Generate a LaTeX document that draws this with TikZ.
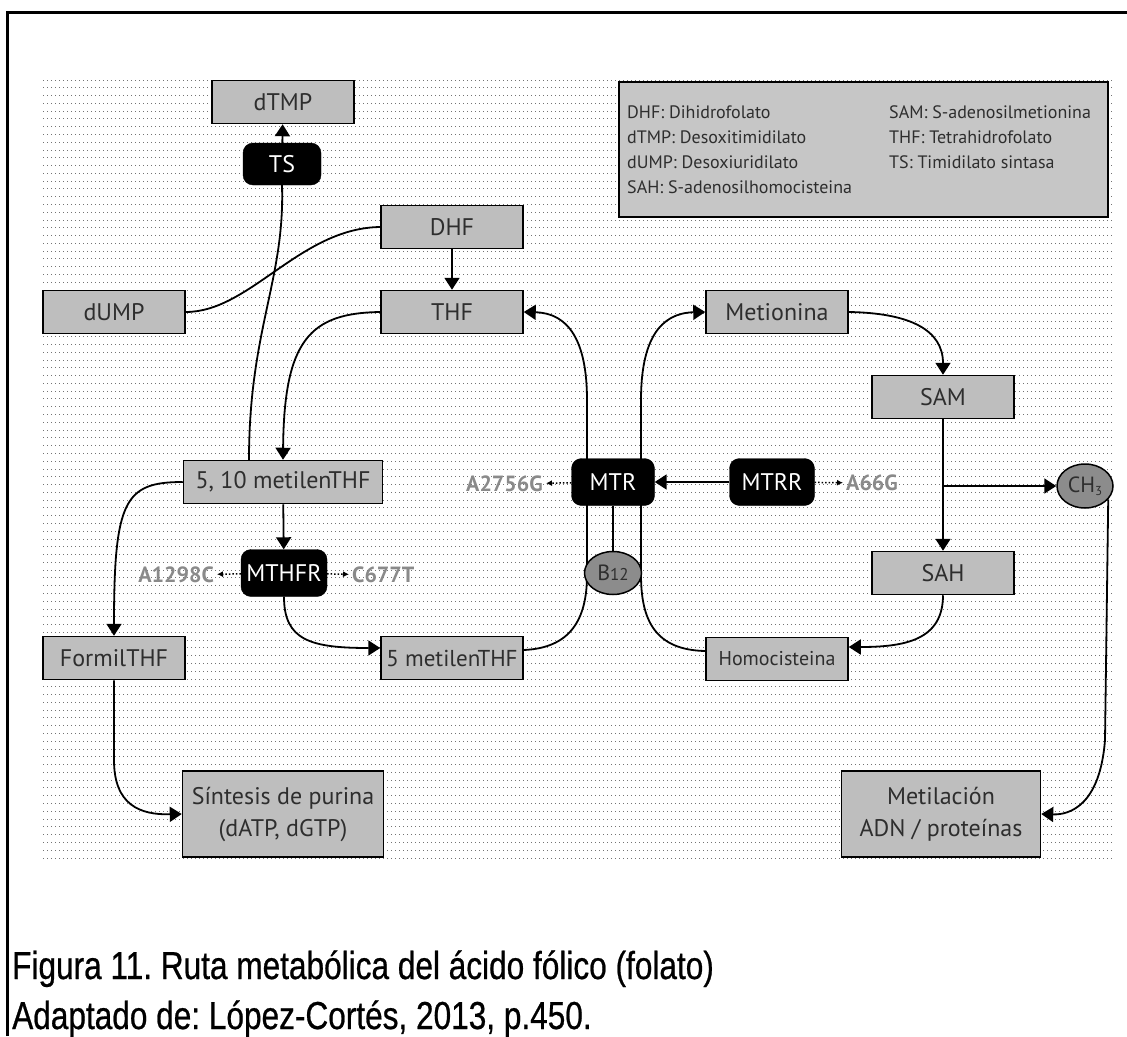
\documentclass[tikz,border=0pt]{standalone}
\usepackage{fontspec}
\newfontfamily\boxfont{PT Sans}
\newfontfamily\capfont[FakeStretch=0.81,FakeBold=0.6]{Liberation Sans}
\usetikzlibrary{arrows.meta,shapes.geometric}
\pgfdeclarelayer{bg}
\pgfdeclarelayer{lines}
\pgfsetlayers{bg,lines,main}
\definecolor{boxgray}{HTML}{BEBEBE}
\definecolor{leggray}{HTML}{C6C6C6}
\definecolor{cofgray}{HTML}{8C8C8C}
\definecolor{txtgray}{HTML}{2E2E2E}
\definecolor{mutgray}{HTML}{8A8A8A}
\begin{document}
\begin{tikzpicture}[x=1pt,y=-1pt,
    box/.style={draw=black,line width=1.5pt,fill=boxgray,minimum width=142pt,minimum height=43pt,
      inner sep=0pt,text=txtgray,align=center,font=\boxfont\fontsize{24}{32}\selectfont},
    enz/.style={draw=black,fill=black,rounded corners=10pt,minimum height=47pt,inner sep=0pt,
      text=white,font=\boxfont\fontsize{24}{26}\selectfont},
    cof/.style={ellipse,draw=black,line width=1.5pt,fill=cofgray,inner sep=0pt,
      text=txtgray,font=\boxfont\fontsize{22}{24}\selectfont},
    mut/.style={inner sep=3pt,text=mutgray,font=\boxfont\bfseries\fontsize{22}{24}\selectfont},
    leg/.style={anchor=west,inner sep=0pt,text=txtgray,font=\boxfont\fontsize{18}{20}\selectfont},
    conn/.style={line width=1.8pt,-{Triangle[length=12pt,width=15pt]}},
    link/.style={line width=1.8pt},
    snp/.style={line width=1.5pt,dotted,-{Latex[length=6pt,width=6pt]}},
    hatch/.style={black!55,line width=1pt,dash pattern=on 1pt off 3pt},
    figcap/.style={anchor=base west,inner sep=0pt,font=\capfont\frenchspacing\fontsize{39}{42}\selectfont}]
\useasboundingbox (0,0) rectangle (1127,1036);
\begin{pgfonlayer}{bg}
\fill[white] (0,0) rectangle (1127,1036);
% dotted background
\foreach \i in {0,...,100}
    \draw[hatch] (43,{80+7.78*\i}) -- (1113,{80+7.78*\i});
\end{pgfonlayer}
\draw[line width=3pt] (7,1036) -- (7,12) -- (1127,12);

\node[box] (dTMP) at (283,102) {dTMP};
\node[box] (DHF) at (452,227) {DHF};
\node[box] (dUMP) at (114,312) {dUMP};
\node[box] (THF) at (452,312) {THF};
\node[box] (Met) at (777,312) {Metionina};
\node[box] (SAM) at (943,397) {SAM};
\node[box,minimum width=199pt] (M510) at (283,482) {5, 10 metilenTHF};
\node[box] (Formil) at (114,658) {FormilTHF};
\node[box,font=\boxfont\fontsize{23}{25}\selectfont] (M5) at (452,658) {5 metilenTHF};
\node[box] (SAH) at (943,573) {SAH};
\node[box,font=\boxfont\fontsize{20}{22}\selectfont] (Hcy) at (777,659) {Homocisteina};
\node[box,minimum width=201pt,minimum height=86pt] (Purina) at (283,814) {Síntesis de purina\\(dATP, dGTP)};
\node[box,minimum width=199pt,minimum height=86pt] (Metil) at (941,814) {Metilación\\ADN / proteínas};

\node[enz,minimum width=78pt,minimum height=42pt] (TS) at (282,164) {TS};
\node[enz,minimum width=86pt] (MTHFR) at (284,573) {MTHFR};
\node[enz,minimum width=83pt] (MTR) at (613,482) {MTR};
\node[enz,minimum width=85pt] (MTRR) at (772,482) {MTRR};
\node[cof,minimum width=57pt,minimum height=43pt] (B12) at (613,573) {B{\fontsize{17}{17}\selectfont 12}};
\node[cof,minimum width=56pt,minimum height=44pt] (CH3) at (1085,486) {CH{\fontsize{13}{13}\selectfont\raisebox{-3pt}{3}}};

\node[mut,anchor=east] (A2756G) at (546,484) {A2756G};
\node[mut,anchor=west] (A66G) at (843,483) {A66G};
\node[mut,anchor=east] (A1298C) at (217,575) {A1298C};
\node[mut,anchor=west] (C677T) at (349,575) {C677T};

% legend
\draw[line width=1.5pt,fill=leggray] (619,82) rectangle (1108,217);
\node[leg] at (627,112) {DHF: Dihidrofolato};
\node[leg] at (627,137) {dTMP: Desoxitimidilato};
\node[leg] at (627,162) {dUMP: Desoxiuridilato};
\node[leg] at (627,187) {SAH: S-adenosilhomocisteina};
\node[leg] at (889,112) {SAM: S-adenosilmetionina};
\node[leg] at (889,137) {THF: Tetrahidrofolato};
\node[leg] at (889,162) {TS: Timidilato sintasa};

\coordinate (branch) at (SAM.south |- CH3.west);

\begin{pgfonlayer}{lines}
\draw[conn] (TS) -- (dTMP);
\draw[link] ([xshift=-34pt]M510.north) .. controls (249,330) and (285,280) .. (TS.south);
\draw[link] (dUMP.east) .. controls (250,312) and (300,228) .. (DHF.west);
\draw[conn] (DHF) -- (THF);
\draw[conn] (THF.west) .. controls (310,313) and (284,340) .. (M510.north);
\draw[conn] (M510) -- (MTHFR);
\draw[conn] (M510.west) .. controls (125,482) and (114,500) .. (Formil.north);
\draw[conn] (Formil.south) -- (114,760) .. controls (114,805) and (140,815) .. (Purina.west);
\draw[conn] (MTHFR.south) .. controls (284,640) and (310,648) .. ([yshift=10pt]M5.west);
% MTR cycle
\draw[conn] ([yshift=8pt]M5.east) .. controls (570,648) and (587,620) .. (587,575)
    -- (587,400) .. controls (587,340) and (568,313) .. (THF.east);
\draw[conn] ([yshift=8pt]Hcy.west) .. controls (655,650) and (641,620) .. (641,575)
    -- (641,400) .. controls (641,340) and (660,313) .. (Met.west);
\draw[link] (MTR.south) -- (B12.north);
\draw[conn] (MTRR) -- (MTR);
\draw[conn] (Met.east) .. controls (910,313) and (943,330) .. (SAM.north);
\draw[conn] (SAM) -- (SAH);
\draw[conn] (branch) -- (CH3.west);
\draw[conn] (SAH.south) .. controls (943,640) and (905,647) .. ([yshift=12pt]Hcy.east);
\draw[conn] (CH3.-30) -- (1105,740) .. controls (1100,805) and (1070,815) .. (Metil.east);
% polimorfismos
\draw[snp] (MTR) -- (A2756G);
\draw[snp] (MTRR) -- (A66G);
\draw[snp] (MTHFR) -- (A1298C);
\draw[snp] (MTHFR) -- (C677T);
\end{pgfonlayer}

\node[figcap] (fig) at (12,979) {Figura 11. Ruta metabólica del ácido fólico (folato)};
\node[figcap] (src) at (12,1029) {Adaptado de: López-Cortés, 2013, p.450.};
\end{tikzpicture}
\end{document}
